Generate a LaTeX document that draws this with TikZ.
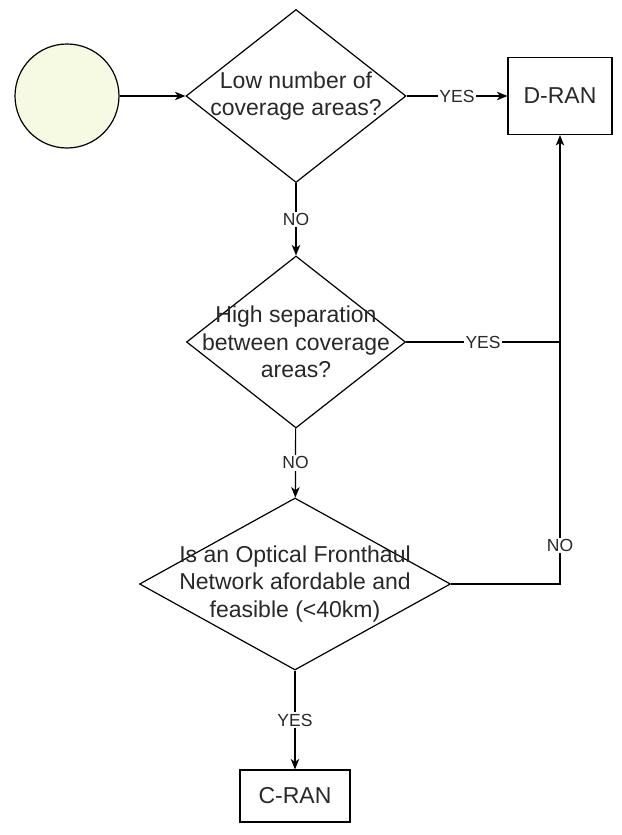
\documentclass[tikz,border=0pt]{standalone}
\usepackage{fontspec}
\setmainfont{Liberation Sans}
\usetikzlibrary{shapes,arrows.meta,positioning,calc}
\definecolor{startfill}{RGB}{246,250,226}
\definecolor{textgray}{RGB}{40,40,40}

\begin{document}
\begin{tikzpicture}[->,>={Stealth[length=10.5pt,width=8.5pt,inset=3pt]},
node distance=244pt,
line width=1.2pt, font=\fontsize{23}{27.6}\selectfont]

\tikzstyle{decision}=[diamond, draw, fill=none, inner sep=0pt, minimum height=172pt]
\tikzstyle{block}=[rectangle, draw, inner sep=0pt, text=textgray]
\tikzstyle{qtext}=[align=center, text=textgray, inner sep=0pt]
\tikzstyle{answer}=[fill=white, inner sep=1.5pt, text=textgray,
font=\fontsize{17.5}{21}\selectfont]

\useasboundingbox (0,0) rectangle (621pt,-835pt);

%first question
\node[decision, minimum width=220pt, minimum height=173pt,
label={[qtext]center:Low number of\\coverage areas?}]
(qlow) at (296pt,-96pt)
{};

\node[circle, draw, fill=startfill, minimum size=104pt]
(start) [left of=qlow, xshift=15pt]
{};

\node[block, minimum width=104pt, minimum height=77pt]
(dran) [right of=qlow, xshift=20pt]
{D-RAN};

\node[decision, minimum width=219pt,
label={[qtext]center:High separation\\between coverage\\areas?}]
(qsep) [below of=qlow, yshift=-2pt]
{};

\node[decision, minimum width=311pt,
label={[qtext]center:Is an Optical Fronthaul\\Network afordable and\\feasible (<40km)}]
(qfeas) [below of=qsep, yshift=2pt, xshift=-1pt]
{};

\node[block, minimum width=110pt, minimum height=52pt]
(cran) [below of=qfeas, yshift=32pt]
{C-RAN};

\coordinate (join) at (qsep.east -| dran.south);

\path[->] (start) edge (qlow);
\path[->] (qlow) edge node[answer] {YES} (dran);
\path[->] (qlow) edge node[answer] {NO} (qsep);
\path[->] (qsep) edge node[answer] {NO} (qfeas);
\path[->] (qfeas) edge node[answer] {YES} (cran);

\draw[->] (qsep.east) -| node[answer, pos=0.25] {YES} (dran.south);
\draw[-] (qfeas.east) -| node[answer, pos=0.58] {NO} (join);

\end{tikzpicture}
\end{document}
